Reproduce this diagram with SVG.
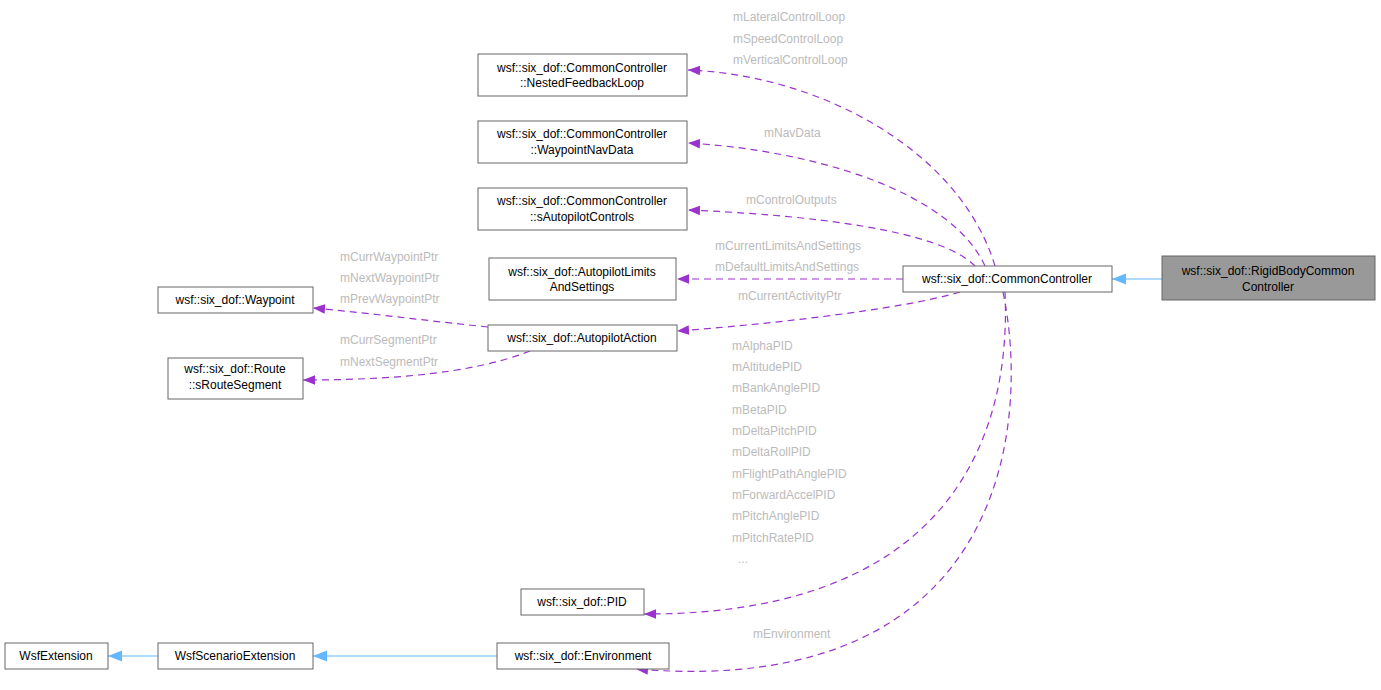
<svg xmlns="http://www.w3.org/2000/svg" width="1381" height="690" viewBox="0 0 1381 690">
<style>
.n rect{fill:#fff;stroke:#666;stroke-width:1}
text{font-family:"Liberation Sans",Arial,sans-serif;font-size:12px}
.n text{fill:#000;text-anchor:middle}
.l{fill:#bbb}
.d{fill:none;stroke:#9a32cd;stroke-width:1.2;stroke-dasharray:7,5;marker-end:url(#pa)}
.b{fill:none;stroke:#63b8ff;stroke-width:1.2;marker-end:url(#ba)}
</style>
<defs>
<marker id="pa" viewBox="0 0 10 10" refX="10" refY="5" markerWidth="12" markerHeight="12" markerUnits="userSpaceOnUse" orient="auto"><path d="M0,1 L10,5 L0,9 z" fill="#9a32cd"/></marker>
<marker id="ba" viewBox="0 0 10 10" refX="10" refY="5" markerWidth="14" markerHeight="14" markerUnits="userSpaceOnUse" orient="auto"><path d="M0,1 L10,5 L0,9 z" fill="#63b8ff"/></marker>
</defs>
<rect width="1381" height="690" fill="#fff"/>
<g id="edges">
<path class="d" d="M995,266 C960,150 820,75 688,70"/>
<path class="d" d="M985,266 C950,190 810,150 688,143"/>
<path class="d" d="M975,266 C940,230 810,215 688,210"/>
<path class="d" d="M903,279 L677,279"/>
<path class="d" d="M960,292 C900,310 760,325 677,331"/>
<path class="d" d="M488,327 C420,320 360,312 313,308"/>
<path class="d" d="M530,351 C470,375 380,380 303,380"/>
<path class="d" d="M1005,292 C1010,400 980,615 644,614"/>
<path class="d" d="M1003,292 C1030,420 1010,700 636,669"/>
<path class="b" d="M1162,279 L1112,279"/>
<path class="b" d="M497,656 L313,656"/>
<path class="b" d="M158,656 L108,656"/>
<text class="l" x="733" y="21">mLateralControlLoop</text>
<text class="l" x="733" y="43">mSpeedControlLoop</text>
<text class="l" x="733" y="64">mVerticalControlLoop</text>
<text class="l" x="764" y="137">mNavData</text>
<text class="l" x="746" y="204">mControlOutputs</text>
<text class="l" x="715" y="250">mCurrentLimitsAndSettings</text>
<text class="l" x="715" y="271">mDefaultLimitsAndSettings</text>
<text class="l" x="738" y="300">mCurrentActivityPtr</text>
<text class="l" x="340" y="261">mCurrWaypointPtr</text>
<text class="l" x="340" y="282">mNextWaypointPtr</text>
<text class="l" x="340" y="303">mPrevWaypointPtr</text>
<text class="l" x="340" y="344">mCurrSegmentPtr</text>
<text class="l" x="340" y="366">mNextSegmentPtr</text>
<text class="l" x="732" y="350">mAlphaPID</text>
<text class="l" x="732" y="371">mAltitudePID</text>
<text class="l" x="732" y="392">mBankAnglePID</text>
<text class="l" x="732" y="414">mBetaPID</text>
<text class="l" x="732" y="435">mDeltaPitchPID</text>
<text class="l" x="732" y="456">mDeltaRollPID</text>
<text class="l" x="732" y="478">mFlightPathAnglePID</text>
<text class="l" x="732" y="499">mForwardAccelPID</text>
<text class="l" x="732" y="520">mPitchAnglePID</text>
<text class="l" x="732" y="542">mPitchRatePID</text>
<text class="l" x="738" y="563">...</text>
<text class="l" x="753" y="638">mEnvironment</text>
</g>
<g id="nfl" class="n"><rect x="478" y="54" width="209" height="42"/><text x="582" y="72">wsf::six_dof::CommonController</text><text x="582" y="87">::NestedFeedbackLoop</text></g>
<g id="wnd" class="n"><rect x="478" y="121" width="209" height="42"/><text x="582" y="138">wsf::six_dof::CommonController</text><text x="582" y="154">::WaypointNavData</text></g>
<g id="sac" class="n"><rect x="478" y="188" width="209" height="42"/><text x="582" y="205">wsf::six_dof::CommonController</text><text x="582" y="221">::sAutopilotControls</text></g>
<g id="als" class="n"><rect x="489" y="258" width="187" height="42"/><text x="582" y="276">wsf::six_dof::AutopilotLimits</text><text x="582" y="291">AndSettings</text></g>
<g id="aa" class="n"><rect x="488" y="325" width="189" height="26"/><text x="582" y="342">wsf::six_dof::AutopilotAction</text></g>
<g id="cc" class="n"><rect x="903" y="266" width="209" height="26"/><text x="1007" y="283">wsf::six_dof::CommonController</text></g>
<g id="rb" class="n"><rect x="1162" y="256" width="213" height="44" style="fill:#999"/><text x="1268" y="275">wsf::six_dof::RigidBodyCommon</text><text x="1268" y="291">Controller</text></g>
<g id="wp" class="n"><rect x="158" y="287" width="155" height="26"/><text x="235" y="304">wsf::six_dof::Waypoint</text></g>
<g id="rs" class="n"><rect x="168" y="358" width="135" height="41"/><text x="235" y="373">wsf::six_dof::Route</text><text x="235" y="389">::sRouteSegment</text></g>
<g id="pid" class="n"><rect x="521" y="589" width="123" height="26"/><text x="582" y="606">wsf::six_dof::PID</text></g>
<g id="env" class="n"><rect x="497" y="643" width="172" height="26"/><text x="583" y="660">wsf::six_dof::Environment</text></g>
<g id="wse" class="n"><rect x="158" y="643" width="155" height="26"/><text x="235" y="660">WsfScenarioExtension</text></g>
<g id="we" class="n"><rect x="5" y="643" width="103" height="26"/><text x="56" y="660">WsfExtension</text></g>
</svg>
